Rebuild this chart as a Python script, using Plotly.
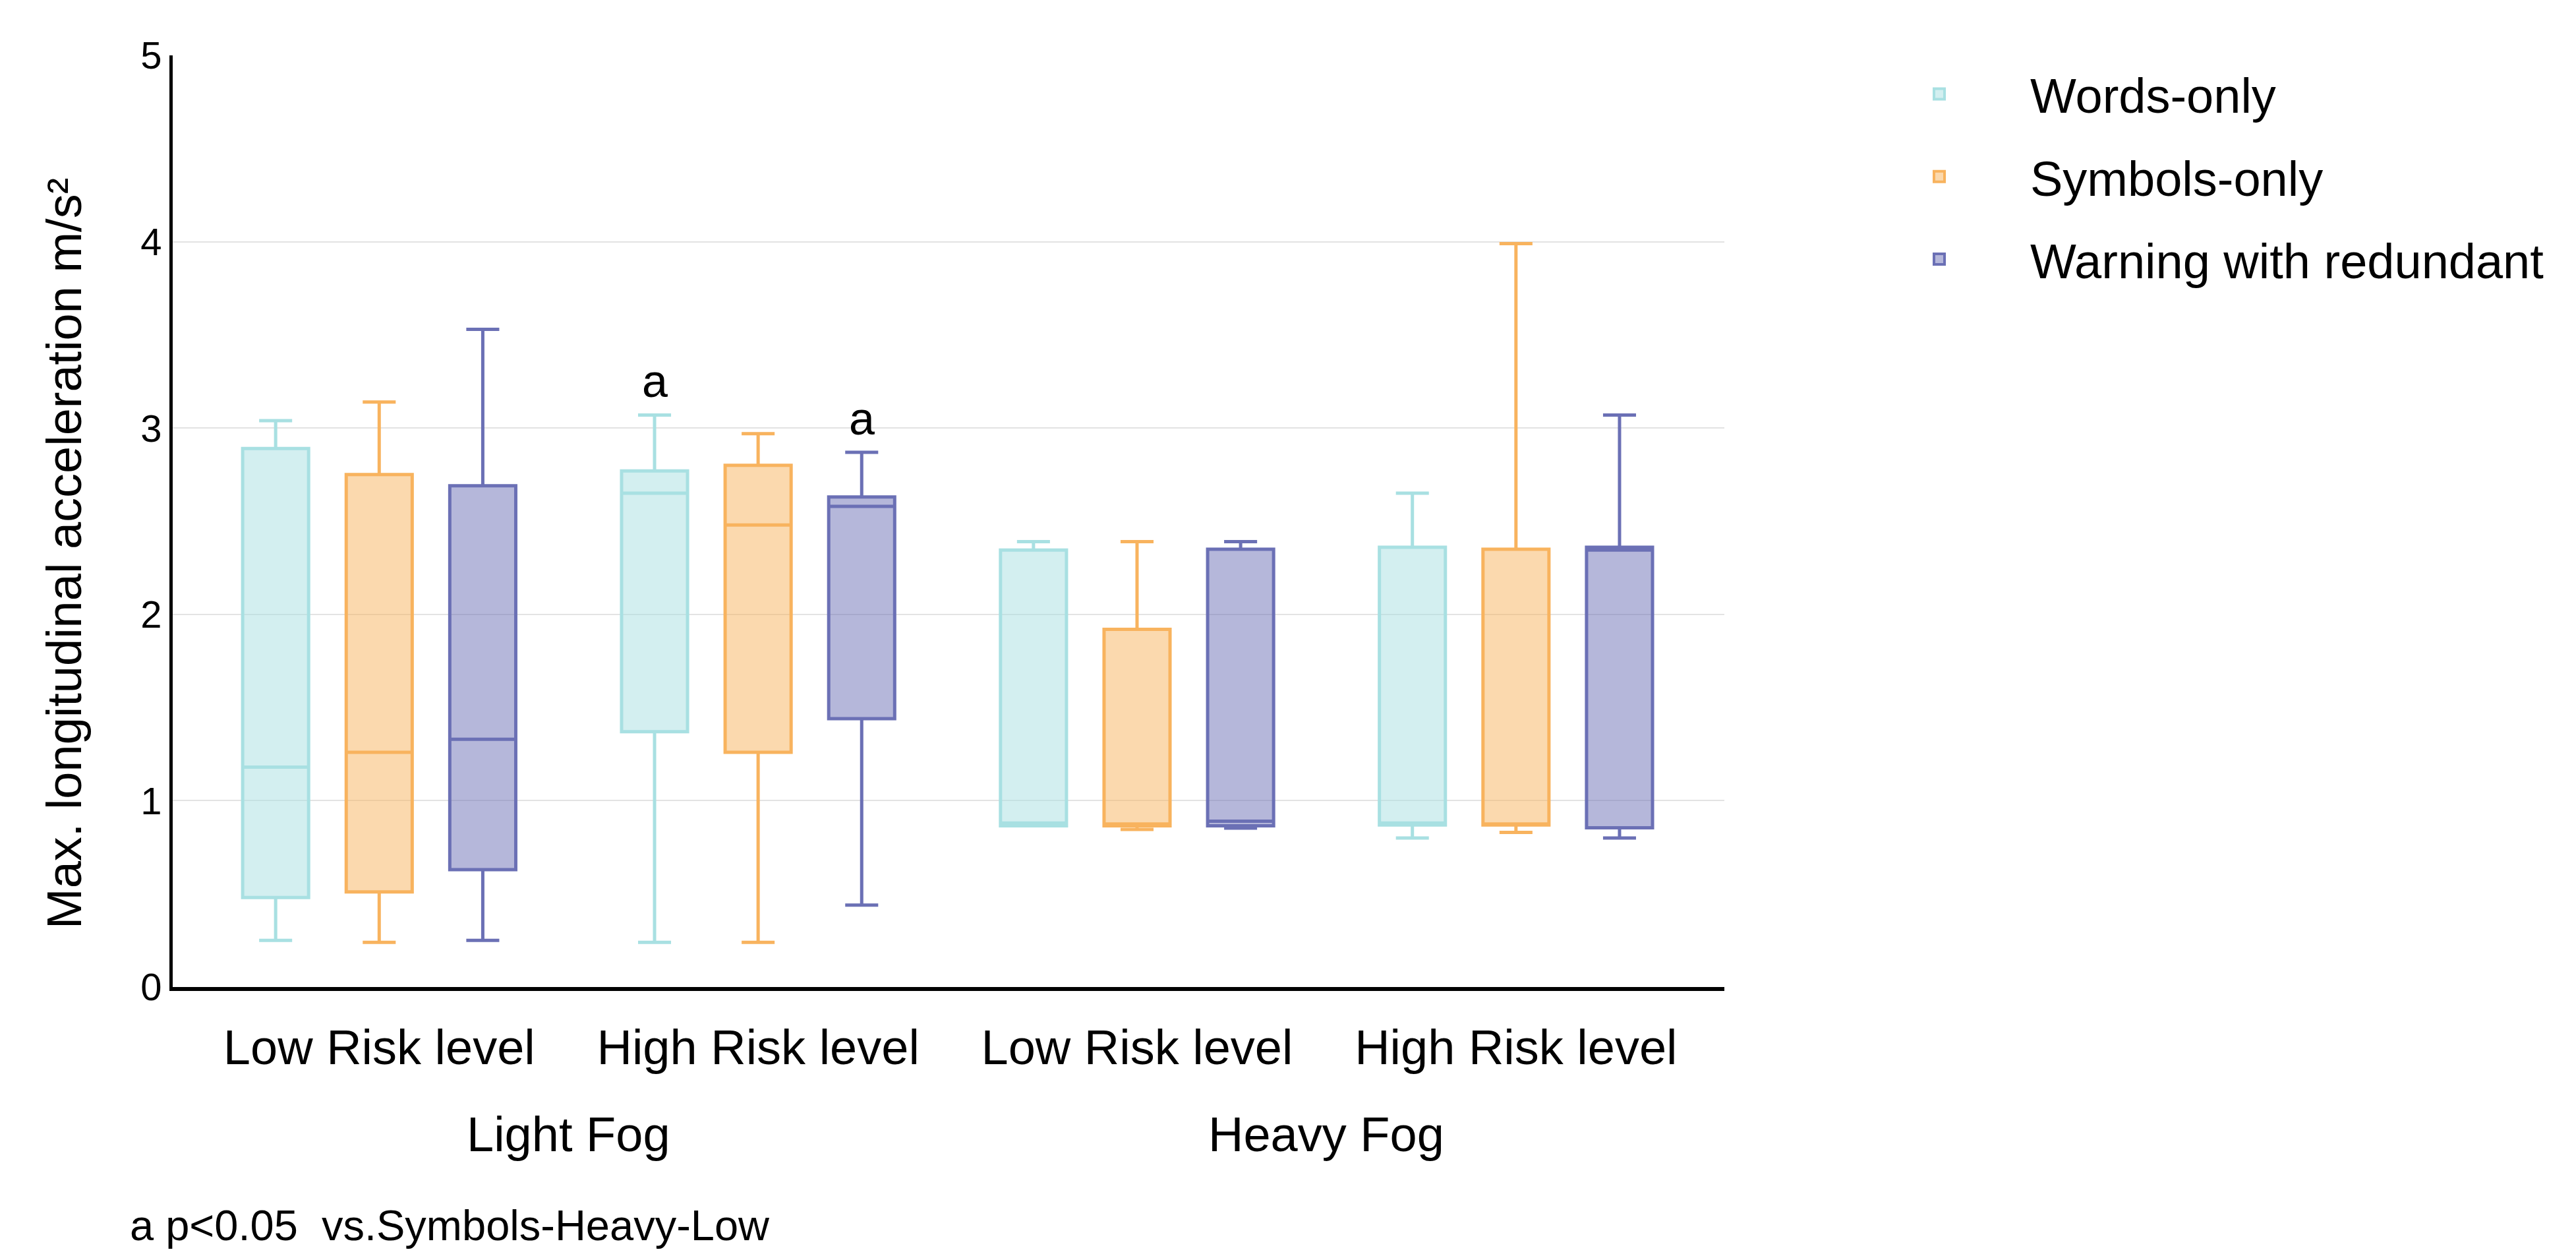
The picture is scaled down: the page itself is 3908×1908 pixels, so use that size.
import plotly.graph_objects as go

# ---------------- data ----------------
positions = [0, 1, 2, 3]
tick_labels = ["Low Risk level", "High Risk level", "Low Risk level", "High Risk level"]
fog_labels = ["Light Fog", "Heavy Fog"]
fog_centers = [0.5, 2.5]

series_names = ["Words-only", "Symbols-only", "Warning with redundant"]
series_colors = ["#a8e0e2", "#f8b35e", "#6b70b5"]
series_fills = ["rgba(168,224,226,0.5)", "rgba(248,179,94,0.5)", "rgba(107,112,181,0.5)"]

words_q1 = [0.48, 1.37, 0.865, 0.87]
words_median = [1.18, 2.65, 0.88, 0.88]
words_q3 = [2.89, 2.77, 2.345, 2.36]
words_low = [0.25, 0.24, 0.865, 0.80]
words_high = [3.04, 3.07, 2.39, 2.65]

symbols_q1 = [0.51, 1.26, 0.865, 0.87]
symbols_median = [1.26, 2.48, 0.875, 0.875]
symbols_q3 = [2.75, 2.80, 1.92, 2.35]
symbols_low = [0.24, 0.24, 0.846, 0.83]
symbols_high = [3.14, 2.97, 2.39, 3.99]

warning_q1 = [0.63, 1.44, 0.865, 0.855]
warning_median = [1.33, 2.58, 0.89, 2.345]
warning_q3 = [2.69, 2.63, 2.35, 2.36]
warning_low = [0.25, 0.44, 0.853, 0.80]
warning_high = [3.53, 2.87, 2.39, 3.07]

# significance marks: (series index, category index)
sig_marks = [(0, 1), (2, 1)]
sig_text = "a"
footnote = "a p&lt;0.05&nbsp;&nbsp;vs.Symbols-Heavy-Low"
y_title = "Max. longitudinal acceleration m/s²"

# ---------------- figure ----------------
FONT = "Liberation Sans, Arial, sans-serif"
BOXGAP = 0.18
BOXGROUPGAP = 0.363

stats = [
    (words_q1, words_median, words_q3, words_low, words_high),
    (symbols_q1, symbols_median, symbols_q3, symbols_low, symbols_high),
    (warning_q1, warning_median, warning_q3, warning_low, warning_high),
]

fig = go.Figure()
for i, (name, color, fill, (q1, med, q3, lo, hi)) in enumerate(
        zip(series_names, series_colors, series_fills, stats)):
    fig.add_trace(go.Box(
        name=name,
        x=positions,
        q1=q1, median=med, q3=q3, lowerfence=lo, upperfence=hi,
        boxpoints=False,
        line=dict(color=color, width=5),
        fillcolor=fill,
        whiskerwidth=0.5,
        legendgroup=name,
        showlegend=False,
        hoverinfo="skip",
    ))

# legend entries (square swatches) linked to the box traces
for name, color, fill in zip(series_names, series_colors, series_fills):
    fig.add_trace(go.Scatter(
        name=name, x=[None], y=[None], mode="markers",
        marker=dict(symbol="square", size=16, color=fill, line=dict(color=color, width=4)),
        legendgroup=name, showlegend=True,
    ))

n = len(series_names)
group_w = 1 - BOXGAP
annotations = []
for si, ci in sig_marks:
    xoff = (si - (n - 1) / 2) * group_w / n
    annotations.append(dict(
        x=positions[ci] + xoff, y=stats[si][4][ci], xref="x", yref="y",
        text=sig_text, showarrow=False, yanchor="bottom", xanchor="center",
        yshift=10, font=dict(size=70, color="black", family=FONT),
    ))

plot_left, plot_right, plot_top, plot_bottom = 254, 2608, 76, 1489
pw = plot_right - plot_left
ph = plot_bottom - plot_top

def px_x(px):
    return (px - plot_left) / pw

def px_y(py):
    return 1 - (py - plot_top) / ph

for lab, c in zip(fog_labels, fog_centers):
    annotations.append(dict(
        x=c, y=px_y(1713), xref="x", yref="paper", text=lab, showarrow=False,
        xanchor="center", yanchor="middle", font=dict(size=74, color="black", family=FONT),
    ))

annotations.append(dict(
    x=px_x(187), y=px_y(1850), xref="paper", yref="paper", text=footnote, showarrow=False,
    xanchor="left", yanchor="middle", font=dict(size=65, color="black", family=FONT),
))

annotations.append(dict(
    x=px_x(89), y=px_y(832), xref="paper", yref="paper", text=y_title, showarrow=False,
    textangle=-90, xanchor="center", yanchor="middle",
    font=dict(size=74, color="black", family=FONT),
))

fig.update_layout(
    width=3908, height=1908,
    margin=dict(l=plot_left, r=3908 - plot_right, t=plot_top, b=1908 - plot_bottom),
    paper_bgcolor="white", plot_bgcolor="white",
    boxmode="group", boxgap=BOXGAP, boxgroupgap=BOXGROUPGAP,
    font=dict(family=FONT, color="black"),
    showlegend=True,
    legend=dict(
        x=px_x(2796), y=px_y(80), xanchor="left", yanchor="top",
        font=dict(size=74, family=FONT, color="black"),
        itemwidth=266, tracegroupgap=26, bgcolor="rgba(0,0,0,0)",
    ),
    annotations=annotations,
)

fig.update_xaxes(
    range=[-0.545, 3.55], tickmode="array", tickvals=positions, ticktext=tick_labels,
    showgrid=False, zeroline=False, showline=True, linecolor="black", linewidth=6,
    ticks="", ticklabelstandoff=22, tickfont=dict(size=74, family=FONT, color="black"),
)
fig.update_yaxes(
    range=[0, 5], dtick=1, tick0=0, showgrid=True, gridcolor="#e3e3e3", gridwidth=2,
    zeroline=False, showline=True, linecolor="black", linewidth=5,
    ticks="", tickfont=dict(size=58, family=FONT, color="black"),
)

fig.write_html("out.html")
